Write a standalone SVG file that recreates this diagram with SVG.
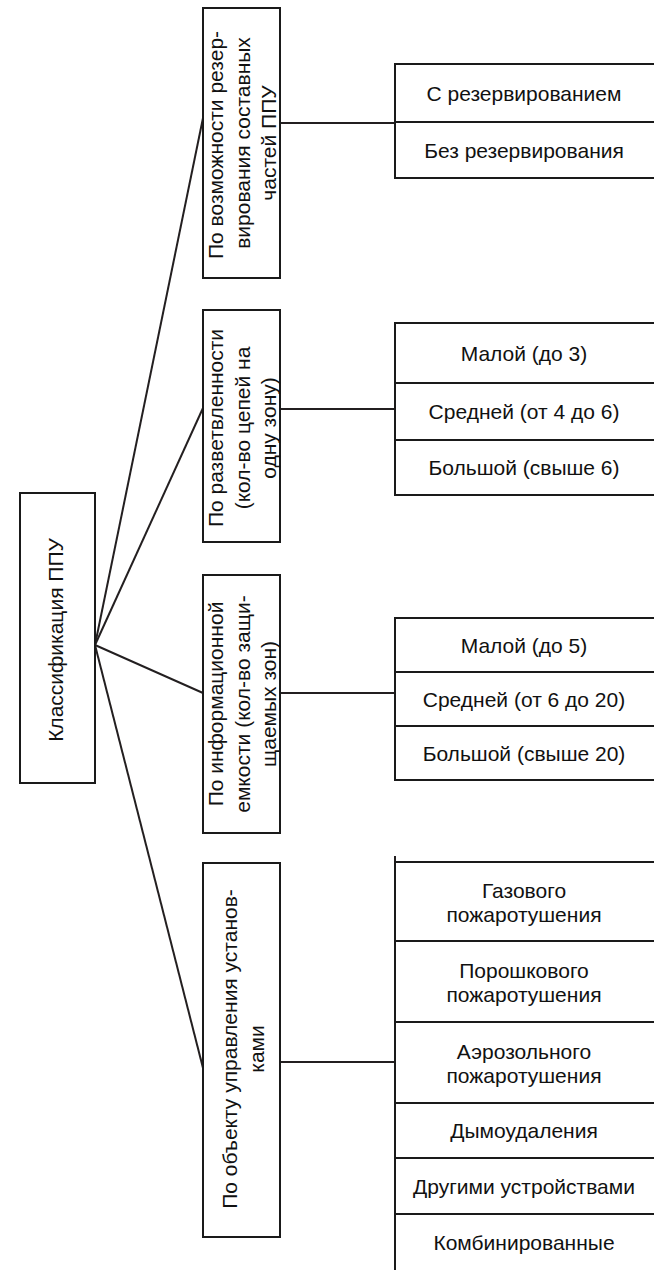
<svg xmlns="http://www.w3.org/2000/svg" width="654" height="1270" viewBox="0 0 654 1270">
<style>
.box{fill:#fff;stroke:#1a1a1a;stroke-width:2}
.ln{stroke:#231f20;stroke-width:2;fill:none}
.t{font-family:"Liberation Sans",Arial,sans-serif;font-size:21px;fill:#111;text-anchor:middle;dominant-baseline:central}
</style>
<rect width="654" height="1270" fill="#fff"/>
<g id="connectors">
<line class="ln" x1="95" y1="645" x2="203" y2="118"/>
<line class="ln" x1="95" y1="645" x2="203" y2="408"/>
<line class="ln" x1="95" y1="645" x2="203" y2="693"/>
<line class="ln" x1="95" y1="645" x2="203" y2="1068"/>
<line class="ln" x1="280" y1="123" x2="395" y2="123"/>
<line class="ln" x1="280" y1="409" x2="395" y2="409"/>
<line class="ln" x1="280" y1="693" x2="395" y2="693"/>
<line class="ln" x1="280" y1="1062" x2="395" y2="1062"/>
</g>
<g id="root">
<rect class="box" x="20" y="493" width="75" height="290"/>
<text class="t" transform="translate(55,640) rotate(-90)">Классификация ППУ</text>
</g>
<g id="c1">
<rect class="box" x="203" y="8" width="77" height="270"/>
<text class="t" transform="translate(215,145) rotate(-90)">По возможности резер-</text>
<text class="t" transform="translate(242,143) rotate(-90)">вирования составных</text>
<text class="t" transform="translate(268,143) rotate(-90)">частей ППУ</text>
</g>
<g id="c2">
<rect class="box" x="203" y="310" width="77" height="232"/>
<text class="t" transform="translate(215,428) rotate(-90)">По разветвленности</text>
<text class="t" transform="translate(242,428) rotate(-90)">(кол-во цепей на</text>
<text class="t" transform="translate(268,428) rotate(-90)">одну зону)</text>
</g>
<g id="c3">
<rect class="box" x="203" y="575" width="77" height="258"/>
<text class="t" transform="translate(215,704) rotate(-90)">По информационной</text>
<text class="t" transform="translate(242,704) rotate(-90)">емкости (кол-во защи-</text>
<text class="t" transform="translate(268,704) rotate(-90)">щаемых зон)</text>
</g>
<g id="c4">
<rect class="box" x="203" y="863" width="77" height="374"/>
<text class="t" transform="translate(229,1049) rotate(-90)">По объекту управления установ-</text>
<text class="t" transform="translate(256,1049) rotate(-90)">ками</text>
</g>
<g id="g1">
<rect class="box" x="395" y="64" width="270" height="58"/>
<text class="t" x="524" y="93">С резервированием</text>
<rect class="box" x="395" y="122" width="270" height="56"/>
<text class="t" x="524" y="150">Без резервирования</text>
</g>
<g id="g2">
<rect class="box" x="395" y="323" width="270" height="60"/>
<text class="t" x="524" y="353">Малой (до 3)</text>
<rect class="box" x="395" y="383" width="270" height="57"/>
<text class="t" x="524" y="411">Средней (от 4 до 6)</text>
<rect class="box" x="395" y="440" width="270" height="55"/>
<text class="t" x="524" y="467">Большой (свыше 6)</text>
</g>
<g id="g3">
<rect class="box" x="395" y="618" width="270" height="54"/>
<text class="t" x="524" y="645">Малой (до 5)</text>
<rect class="box" x="395" y="672" width="270" height="54"/>
<text class="t" x="524" y="699">Средней (от 6 до 20)</text>
<rect class="box" x="395" y="726" width="270" height="54"/>
<text class="t" x="524" y="753">Большой (свыше 20)</text>
</g>
<g id="g4">
<line class="ln" x1="395" y1="856" x2="395" y2="862"/>
<rect class="box" x="395" y="862" width="270" height="79"/>
<text class="t" x="524" y="890">Газового</text>
<text class="t" x="524" y="914">пожаротушения</text>
<rect class="box" x="395" y="941" width="270" height="81"/>
<text class="t" x="524" y="970">Порошкового</text>
<text class="t" x="524" y="994">пожаротушения</text>
<rect class="box" x="395" y="1022" width="270" height="81"/>
<text class="t" x="524" y="1051">Аэрозольного</text>
<text class="t" x="524" y="1075">пожаротушения</text>
<rect class="box" x="395" y="1103" width="270" height="55"/>
<text class="t" x="524" y="1130">Дымоудаления</text>
<rect class="box" x="395" y="1158" width="270" height="56"/>
<text class="t" x="524" y="1186">Другими устройствами</text>
<rect class="box" x="395" y="1214" width="270" height="70"/>
<text class="t" x="524" y="1242">Комбинированные</text>
</g>
</svg>
